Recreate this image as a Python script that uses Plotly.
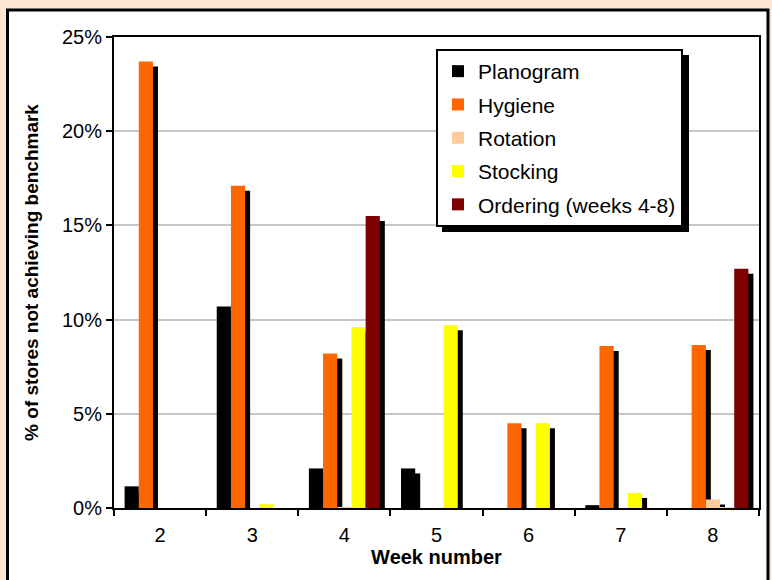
import plotly.graph_objects as go

weeks = ["2", "3", "4", "5", "6", "7", "8"]
series_names = ["Planogram", "Hygiene", "Rotation", "Stocking", "Ordering (weeks 4-8)"]
planogram = [1.15, 10.7, 2.1, 2.1, 0.0, 0.15, 0.0]
hygiene = [23.7, 17.1, 8.2, 0.0, 4.5, 8.6, 8.65]
rotation = [0.0, 0.0, 0.05, 0.0, 0.0, 0.0, 0.45]
stocking = [0.0, 0.2, 9.6, 9.7, 4.5, 0.8, 0.05]
ordering = [None, None, 15.5, 0.0, 0.0, 0.0, 12.7]
y_ticks = [0, 5, 10, 15, 20, 25]
y_tick_labels = ["0%", "5%", "10%", "15%", "20%", "25%"]

colors = ["#000000", "#FF6600", "#FFCC99", "#FFFF00", "#800000"]
all_series = [planogram, hygiene, rotation, stocking, ordering]

# layout geometry (pixels)
W, H = 772, 580
L, R, T, B = 114, 13, 37, 72
pw, ph = W - L - R, H - T - B
ymax = 25.0
ncat = len(weeks)
cat_px = pw / ncat
bar_w = 0.154
start_off = -0.385
sh_dx = 5 / cat_px            # shadow offset in category units
sh_dy = 5 * ymax / ph         # shadow offset in data units

FONT = "Liberation Sans, Arial, sans-serif"

fig = go.Figure()
for i, (name, vals, col) in enumerate(zip(series_names, all_series, colors)):
    off = start_off + i * bar_w
    fig.add_trace(go.Bar(
        x=weeks, y=vals, base=[-sh_dy] * ncat,
        offset=off + sh_dx, width=bar_w,
        marker=dict(color="#000000", line=dict(width=0)),
        showlegend=False, hoverinfo="skip", legendgroup=name,
    ))
    fig.add_trace(go.Bar(
        x=weeks, y=vals, name=name,
        offset=off, width=bar_w,
        marker=dict(color=col, line=dict(width=0)),
        legendgroup=name,
    ))

def px_x(px):
    return (px - L) / pw

def px_y(py):
    return (H - B - py) / ph

# legend box (pixels) for shadow
lg_l, lg_t, lg_r, lg_b = 436, 49, 683, 225
shapes = [
    dict(type="rect", xref="paper", yref="paper", layer="below",
         x0=px_x(7.5), x1=px_x(768), y0=px_y(640), y1=px_y(10),
         fillcolor="#FFFFFF", line=dict(color="#000000", width=3)),
    dict(type="rect", xref="paper", yref="paper", layer="above",
         x0=px_x(lg_l + 6), x1=px_x(lg_r + 6), y0=px_y(lg_b + 7), y1=px_y(lg_t + 6),
         fillcolor="#000000", line=dict(width=0)),
]

fig.update_layout(
    width=W, height=H,
    margin=dict(l=L, r=R, t=T, b=B, pad=0),
    paper_bgcolor="#FDE6D6",
    plot_bgcolor="rgba(0,0,0,0)",
    barmode="overlay",
    font=dict(family=FONT, size=20, color="#000000"),
    shapes=shapes,
    legend=dict(
        x=px_x(lg_l), y=px_y(lg_t), xanchor="left", yanchor="top",
        bgcolor="#FFFFFF", bordercolor="#000000", borderwidth=2,
        font=dict(family=FONT, size=21, color="#000000"),
        traceorder="grouped", tracegroupgap=3,
    ),
    xaxis=dict(
        type="category", range=[-0.5, ncat - 0.5],
        tickson="boundaries", ticks="outside", ticklen=6, tickwidth=1.5,
        tickcolor="#000000",
        showline=True, linecolor="#000000", linewidth=2, mirror=True,
        showgrid=False, zeroline=False,
        ticklabelstandoff=8,
        tickfont=dict(family=FONT, size=20),
        title=dict(text="Week number", standoff=0,
                   font=dict(family=FONT, size=20, weight="bold")),
    ),
    yaxis=dict(
        range=[0, ymax], tickvals=y_ticks, ticktext=y_tick_labels,
        ticks="outside", ticklen=6, tickwidth=1.5, tickcolor="#000000",
        showline=True, linecolor="#000000", linewidth=2, mirror=True,
        showgrid=True, gridcolor="#C6C6C6", gridwidth=2, zeroline=False,
        tickfont=dict(family=FONT, size=20),
        title=dict(text="% of stores not achieving benchmark", standoff=18,
                   font=dict(family=FONT, size=19, weight="bold")),
    ),
)

fig.write_html("out.html", config={"displayModeBar": False},
               post_script="document.body.style.margin='0';")
